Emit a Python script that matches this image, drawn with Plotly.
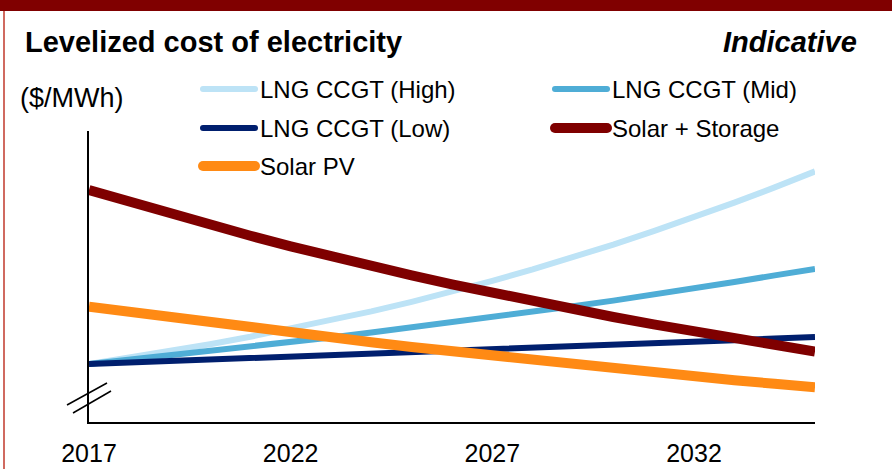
import plotly.graph_objects as go

# chart data (y has no scale, units are indicative $/MWh)
years = list(range(2017, 2036))
x_ticks = [2017, 2022, 2027, 2032]

lng_high = [29.0, 32.1, 35.4, 38.9, 42.6, 46.6, 50.8, 55.3, 60.1, 65.2,
            70.6, 76.3, 82.3, 88.7, 95.4, 102.4, 109.7, 117.3, 125.3]
lng_mid = [29.0, 31.1, 33.2, 35.4, 37.6, 39.9, 42.3, 44.7, 47.2, 49.8,
           52.4, 55.1, 57.9, 60.7, 63.6, 66.6, 70.0, 73.3, 76.5]
lng_low = [29.0, 29.7, 30.4, 31.1, 31.8, 32.5, 33.2, 34.0, 34.7, 35.5,
           36.2, 37.0, 37.7, 38.5, 39.3, 40.1, 40.9, 41.7, 42.5]
solar_storage = [116.0, 110.0, 104.3, 98.6, 93.1, 87.8, 82.6, 77.9, 73.3, 68.8,
                 64.5, 60.4, 56.4, 52.5, 48.8, 45.2, 41.7, 38.4, 35.2]
solar_pv = [57.7, 55.0, 52.4, 49.8, 47.2, 44.7, 42.3, 39.9, 37.5, 35.3,
            33.0, 30.8, 28.6, 26.6, 24.6, 22.7, 20.9, 19.1, 17.4]

# name, values, colour, width — listed in drawing order
SERIES = [
    ("LNG CCGT (High)", lng_high, "#bde3f6", 6),
    ("LNG CCGT (Mid)", lng_mid, "#4fadd6", 6),
    ("LNG CCGT (Low)", lng_low, "#001f6e", 6),
    ("Solar + Storage", solar_storage, "#7f0000", 10),
    ("Solar PV", solar_pv, "#ff8a14", 10),
]
# legend order, read row by row (two columns)
LEGEND_ORDER = ["LNG CCGT (High)", "LNG CCGT (Mid)", "LNG CCGT (Low)",
                "Solar + Storage", "Solar PV"]

W, H = 892, 469
PLOT_L, PLOT_R, PLOT_T, PLOT_B = 89, 815, 131, 422
FONT = "Arial, Liberation Sans, sans-serif"


def px(x, y):
    """Pixel position -> paper coordinates."""
    return ((x - PLOT_L) / (PLOT_R - PLOT_L), (PLOT_B - y) / (PLOT_B - PLOT_T))


fig = go.Figure()
for name, vals, color, width in SERIES:
    fig.add_trace(go.Scatter(x=years, y=vals, mode="lines", name=name,
                             line=dict(color=color, width=width),
                             showlegend=False, hoverinfo="skip"))

shapes = []
annotations = []

# dark red band on top and thin border on the left
x0, y0 = px(0, 0)
x1, y1 = px(W, 11)
shapes.append(dict(type="rect", xref="paper", yref="paper", x0=x0, x1=x1,
                   y0=y1, y1=y0 + 0.05, fillcolor="#800000", line_width=0,
                   layer="above"))
bx, by0 = px(4, 11)
_, by1 = px(4, H + 5)
shapes.append(dict(type="line", xref="paper", yref="paper", x0=bx, x1=bx,
                   y0=by0, y1=by1, line=dict(color="#c0392b", width=1.5)))

# axis break marks
for (ax0, ay0, ax1, ay1) in [(67, 405, 107, 383), (73, 413, 111, 391)]:
    sx0, sy0 = px(ax0, ay0)
    sx1, sy1 = px(ax1, ay1)
    shapes.append(dict(type="line", xref="paper", yref="paper", x0=sx0, y0=sy0,
                       x1=sx1, y1=sy1, line=dict(color="black", width=1.5)))

# manual legend (long line samples like the original)
style = {name: (color, width) for name, _, color, width in SERIES}
col_x = [200, 552]
row_y = [89, 128, 166]
for i, name in enumerate(LEGEND_ORDER):
    color, width = style[name]
    lx0 = col_x[i % 2]
    ly = row_y[i // 2]
    lw = max(width, 6)
    ax0, ay = px(lx0 + 3, ly)
    ax1, _ = px(lx0 + 55, ly)
    shapes.append(dict(type="line", xref="paper", yref="paper", x0=ax0, x1=ax1,
                       y0=ay, y1=ay, line=dict(color=color, width=lw)))
    for cx in (lx0 + 3, lx0 + 55):
        c0x, c0y = px(cx - lw / 2, ly - lw / 2)
        c1x, c1y = px(cx + lw / 2, ly + lw / 2)
        shapes.append(dict(type="circle", xref="paper", yref="paper",
                           x0=c0x, x1=c1x, y0=c1y, y1=c0y,
                           fillcolor=color, line_width=0))
    tx, ty = px(lx0 + 58, ly)
    annotations.append(dict(text=name, x=tx, y=ty, xref="paper", yref="paper",
                            xanchor="left", yanchor="middle", showarrow=False,
                            font=dict(family=FONT, size=24, color="black")))

# title, tag and unit
tx, ty = px(23, 42)
annotations.append(dict(text="<b>Levelized cost of electricity</b>", x=tx, y=ty,
                        xref="paper", yref="paper", xanchor="left",
                        yanchor="middle", showarrow=False,
                        font=dict(family=FONT, size=29, color="black")))
tx, ty = px(859, 42)
annotations.append(dict(text="<b><i>Indicative</i></b>", x=tx, y=ty,
                        xref="paper", yref="paper", xanchor="right",
                        yanchor="middle", showarrow=False,
                        font=dict(family=FONT, size=29, color="black")))
tx, ty = px(18, 98)
annotations.append(dict(text="($/MWh)", x=tx, y=ty, xref="paper", yref="paper",
                        xanchor="left", yanchor="middle", showarrow=False,
                        font=dict(family=FONT, size=27, color="black")))

fig.update_layout(
    width=W,
    height=H,
    margin=dict(l=PLOT_L, r=W - PLOT_R, t=PLOT_T, b=H - PLOT_B),
    paper_bgcolor="white",
    plot_bgcolor="white",
    showlegend=False,
    shapes=shapes,
    annotations=annotations,
    xaxis=dict(range=[2017, 2035], tickvals=x_ticks, ticks="", showgrid=False,
               zeroline=False, showline=True, linecolor="black", linewidth=2,
               ticklabelstandoff=8, automargin=False,
               tickfont=dict(family=FONT, size=25, color="black")),
    yaxis=dict(range=[0, 145.5], showticklabels=False, ticks="",
               showgrid=False, zeroline=False, showline=True, automargin=False,
               linecolor="black", linewidth=1.5),
)

# page has a default 8px body margin; drop it so the figure fills the window
fig.write_html("out.html", config={"displayModeBar": False},
               post_script="document.body.style.margin='0';")
